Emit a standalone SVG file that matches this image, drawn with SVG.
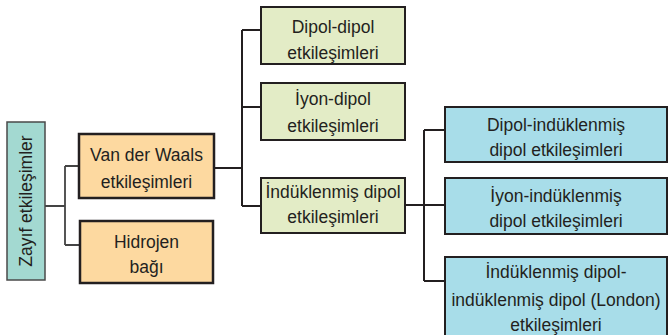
<svg xmlns="http://www.w3.org/2000/svg" width="668" height="335" viewBox="0 0 668 335">
<style>
text{font-family:"Liberation Sans",Arial,sans-serif;font-size:17.5px;fill:#231f20;text-anchor:middle}
.teal{fill:#a3d9d1;stroke:#4a4a4a;stroke-width:1.5}
.org{fill:#fdd9a0;stroke:#231f20;stroke-width:2.5}
.grn{fill:#e3ecc6;stroke:#231f20;stroke-width:2}
.blu{fill:#a8dde9;stroke:#231f20;stroke-width:2}
.ln{fill:none;stroke:#231f20;stroke-width:2}
.ln2{fill:none;stroke:#444;stroke-width:1.8}
</style>
<g id="connectors">
<path class="ln2" d="M45 206H65M65 166V245M65 166H79M65 245H80"/>
<path class="ln" d="M214 168H242M242 30V206M242 30H261M242 107H261M242 206H261"/>
<path class="ln" d="M405 205H424M424 130V281M424 130H445M424 205H445M424 281H445"/>
</g>
<g id="zayif">
<rect class="teal" x="7" y="122" width="38" height="158"/>
<text transform="translate(32 201) rotate(-90)">Zayıf etkileşimler</text>
</g>
<g id="vanderwaals">
<rect class="org" x="79" y="134" width="135" height="64"/>
<text x="146.5" y="161">Van der Waals</text>
<text x="146.5" y="188">etkileşimleri</text>
</g>
<g id="hidrojen">
<rect class="org" x="80" y="221" width="133" height="62"/>
<text x="146.5" y="248">Hidrojen</text>
<text x="146.5" y="273">bağı</text>
</g>
<g id="dipoldipol">
<rect class="grn" x="261" y="7" width="144" height="57"/>
<text x="333" y="33">Dipol-dipol</text>
<text x="333" y="59">etkileşimleri</text>
</g>
<g id="iyondipol">
<rect class="grn" x="261" y="83" width="144" height="57"/>
<text x="333" y="105">İyon-dipol</text>
<text x="333" y="132">etkileşimleri</text>
</g>
<g id="induklenmisdipol">
<rect class="grn" x="261" y="178" width="144" height="55"/>
<text x="333" y="198">İndüklenmiş dipol</text>
<text x="333" y="223">etkileşimleri</text>
</g>
<g id="dipolinduklenmis">
<rect class="blu" x="445" y="107" width="222" height="55"/>
<text x="556" y="131">Dipol-indüklenmiş</text>
<text x="556" y="156">dipol etkileşimleri</text>
</g>
<g id="iyoninduklenmis">
<rect class="blu" x="445" y="178" width="222" height="56"/>
<text x="556" y="202">İyon-indüklenmiş</text>
<text x="556" y="227">dipol etkileşimleri</text>
</g>
<g id="london">
<rect class="blu" x="445" y="257" width="222" height="90"/>
<text x="556" y="278">İndüklenmiş dipol-</text>
<text x="556" y="306">indüklenmiş dipol (London)</text>
<text x="556" y="331">etkileşimleri</text>
</g>
</svg>
